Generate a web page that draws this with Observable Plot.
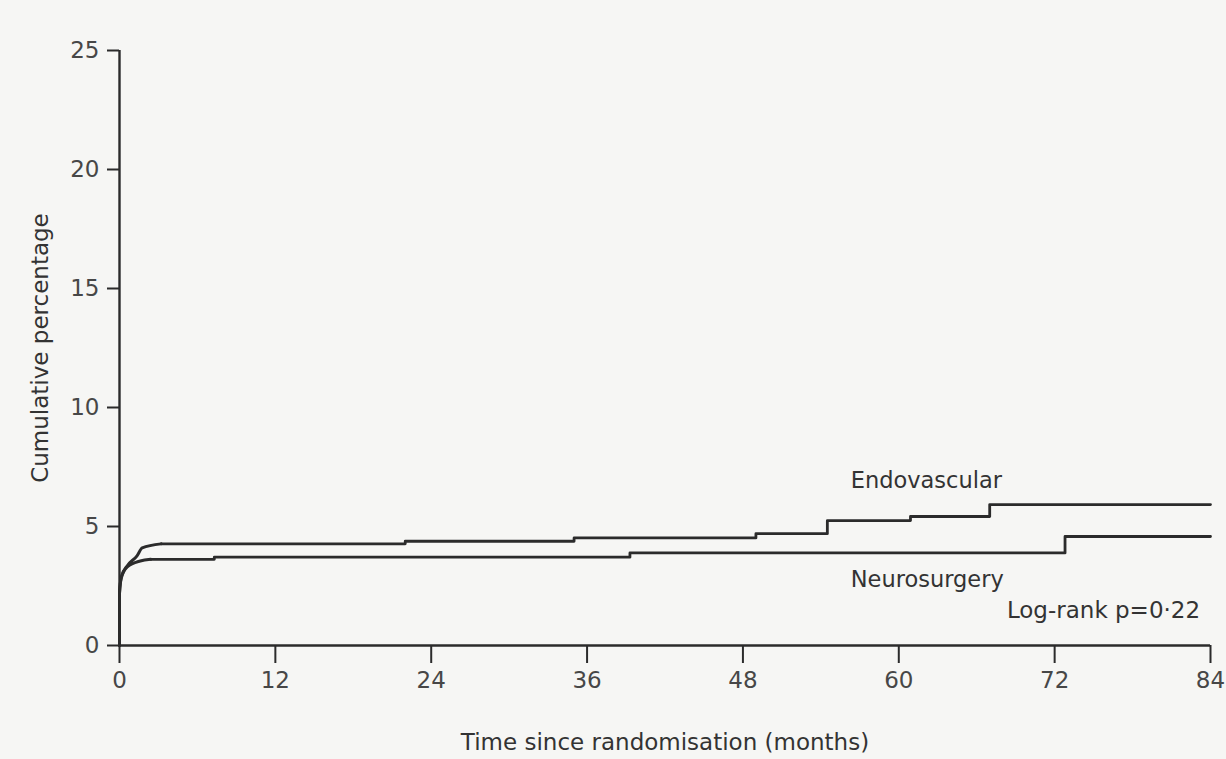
<!DOCTYPE html>
<html>
<head>
<meta charset="utf-8">
<script src="https://cdn.jsdelivr.net/npm/d3@7"></script>
<script src="https://cdn.jsdelivr.net/npm/@observablehq/plot@0.6"></script>
<style>
  html, body { margin: 0; padding: 0; background: #f6f6f4; }
  #chart svg { display: block; background: transparent; }
</style>
</head>
<body>
<div id="chart"></div>
<script>
// Data
const xTicks = [0, 12, 24, 36, 48, 60, 72, 84];
const yTicks = [0, 5, 10, 15, 20, 25];

// Endovascular cumulative percentage: early rise (drawn smoothly), then steps
const endoEarlyMonths = [0, 0, 0.15, 0.6, 1.35, 1.75, 3.2];
const endoEarlyValues = [0, 2.2, 2.9, 3.35, 3.77, 4.1, 4.27];
const endoStepMonths = [3.2, 22, 35, 49, 54.5, 60.9, 67, 84];
const endoStepValues = [4.27, 4.38, 4.52, 4.7, 5.25, 5.42, 5.92, 5.92];

// Neurosurgery cumulative percentage
const neuroEarlyMonths = [0, 0, 0.15, 0.6, 1.6, 2.4];
const neuroEarlyValues = [0, 2.2, 2.85, 3.3, 3.55, 3.62];
const neuroStepMonths = [2.4, 7.3, 39.3, 72.8, 84];
const neuroStepValues = [3.62, 3.71, 3.89, 4.58, 4.58];

const labelText = ["Endovascular", "Neurosurgery"];
const labelMonth = [56.3, 56.3];
const labelValue = [6.9, 2.75];

const noteText = ["Log-rank p=0·22"];
const noteMonth = [83.2];
const noteValue = [1.45];

const rows = (months, values, group) => months.map((m, i) => ({month: m, value: values[i], group}));
const early = rows(endoEarlyMonths, endoEarlyValues, "Endovascular").concat(rows(neuroEarlyMonths, neuroEarlyValues, "Neurosurgery"));
const steps = rows(endoStepMonths, endoStepValues, "Endovascular").concat(rows(neuroStepMonths, neuroStepValues, "Neurosurgery"));
const labels = labelText.map((t, i) => ({text: t, month: labelMonth[i], value: labelValue[i]}));
const notes = noteText.map((t, i) => ({text: t, month: noteMonth[i], value: noteValue[i]}));

const ink = "#2b2b2b";
const font = "'DejaVu Sans', 'Open Sans', sans-serif";

const chart = Plot.plot({
  width: 1226,
  height: 759,
  marginLeft: 119,
  marginRight: 16,
  marginTop: 50,
  marginBottom: 114,
  style: {background: "transparent", color: ink, fontFamily: font},
  x: {domain: [0, 84]},
  y: {domain: [0, 25]},
  marks: [
    Plot.ruleX([0], {y1: 0, y2: 25, stroke: ink, strokeWidth: 2.4}),
    Plot.ruleY([0], {x1: 0, x2: 84, stroke: ink, strokeWidth: 2.4}),
    Plot.axisY({
      ticks: yTicks, tickSize: 12, tickPadding: 8, strokeWidth: 2, stroke: ink,
      fontSize: 23, fill: "#474747", fontFamily: font,
      label: "Cumulative percentage", labelAnchor: "center", labelArrow: "none", labelOffset: 88
    }),
    Plot.axisX({
      ticks: xTicks, tickSize: 18, tickPadding: 8, strokeWidth: 2, stroke: ink,
      fontSize: 23, fill: "#474747", fontFamily: font,
      label: "Time since randomisation (months)", labelAnchor: "center", labelArrow: "none", labelOffset: 104
    }),
    Plot.line(early, {x: "month", y: "value", z: "group", curve: "monotone-x", stroke: ink, strokeWidth: 3}),
    Plot.line(steps, {x: "month", y: "value", z: "group", curve: "step-after", stroke: ink, strokeWidth: 2.8}),
    Plot.text(labels, {x: "month", y: "value", text: "text", textAnchor: "start", fontSize: 22.5, fill: "#333", fontFamily: font}),
    Plot.text(notes, {x: "month", y: "value", text: "text", textAnchor: "end", fontSize: 23, fill: "#333", fontFamily: font})
  ]
});
// Axis title fonts
chart.querySelectorAll("[aria-label='x-axis label'] text, [aria-label='y-axis label'] text").forEach(t => {
  t.setAttribute("font-size", "23");
  t.setAttribute("font-family", font);
  t.setAttribute("fill", "#333");
});
document.getElementById("chart").appendChild(chart);
</script>
</body>
</html>
